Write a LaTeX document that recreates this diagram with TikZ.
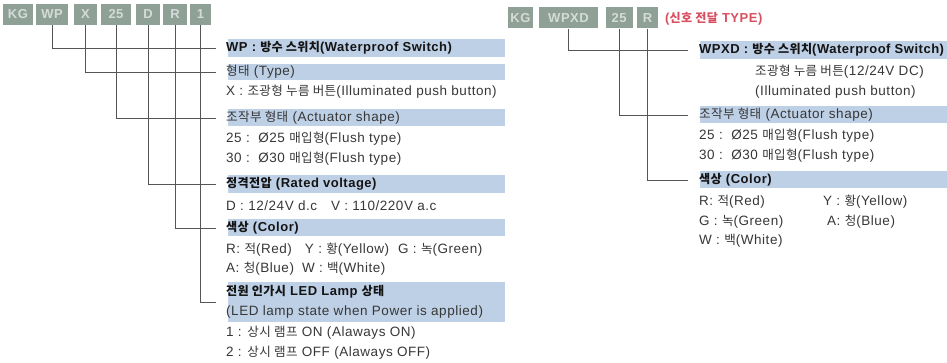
\documentclass[tikz,border=0pt]{standalone}
\usepackage{fontspec}
\setmainfont{Liberation Sans}[LetterSpace=4]
\newfontfamily\krfont{Noto Sans CJK KR}[Scale=0.93,LetterSpace=3]
\newcommand{\K}[1]{{\krfont #1}}
\definecolor{barblue}{RGB}{190,208,230}
\definecolor{codegray}{RGB}{143,160,150}
\definecolor{codetext}{RGB}{212,220,216}
\definecolor{txt}{RGB}{55,55,55}
\definecolor{hdr}{RGB}{20,20,20}
\definecolor{linec}{RGB}{85,85,85}
\definecolor{redt}{RGB}{215,80,95}
\begin{document}
\begin{tikzpicture}[x=1pt,y=-1pt,
  code/.style={fill=codegray, text=codetext, font=\fontsize{13}{13}\selectfont\bfseries, minimum height=21pt, inner sep=0pt, anchor=center},
  bar/.style={anchor=west, fill=barblue, minimum height=18pt, inner sep=0pt,
    path picture={\shade[left color=white,right color=barblue] (path picture bounding box.south west) rectangle ([xshift=12pt]path picture bounding box.north west);}},
  lbl/.style={anchor=west, inner sep=0pt, text=txt, font=\fontsize{13.5}{13.5}\selectfont},
  hd/.style={anchor=west, inner sep=0pt, text=hdr, font=\fontsize{13}{13}\selectfont\bfseries},
  link/.style={draw=linec, line width=0.8pt}]
\useasboundingbox (0,0) rectangle (947,363);
% left code
\node[code, minimum width=30] (kg) at (18,14.5) {KG};
\node[code, minimum width=32] (wp) at (52,14.5) {WP};
\node[code, minimum width=23] (x) at (85.5,14.5) {X};
\node[code, minimum width=30] (n25) at (116,14.5) {25};
\node[code, minimum width=24] (d) at (148,14.5) {D};
\node[code, minimum width=24] (r) at (175,14.5) {R};
\node[code, minimum width=21] (one) at (200.5,14.5) {1};
% right code
\node[code, minimum width=25] (kg2) at (520.5,18) {KG};
\node[code, minimum width=59] (wpxd) at (568.5,18) {WPXD};
\node[code, minimum width=27] (r25) at (619,18) {25};
\node[code, minimum width=21] (rr) at (647.5,18) {R};
\node[anchor=west, inner sep=0pt, text=redt, font=\fontsize{13}{13}\selectfont\bfseries] (sig) at (665,19) {(\K{신호 전달} TYPE)};
% left bars
\node[bar, minimum width=289] (bwp) at (216,48) {};
\node[hd] (twp) at ([xshift=10]bwp.west) {WP : \K{방수 스위치}(Waterproof Switch)};
\node[bar, minimum width=289, minimum height=16] (bty) at (216,72) {};
\node[lbl] (tty) at ([xshift=10]bty.west) {\K{형태} (Type)};
\node[lbl] (tx) at (226,92) {X : \K{조광형 누름 버튼}(Illuminated push button)};
\node[bar, minimum width=289, minimum height=17] (bact) at (216,118) {};
\node[lbl] (tact) at ([xshift=10]bact.west) {\K{조작부 형태} (Actuator shape)};
\node[lbl] (t25) at (226,139) {25 :\ \ Ø25 \K{매입형}(Flush type)};
\node[lbl] (t30) at (226,159) {30 :\ \ Ø30 \K{매입형}(Flush type)};
\node[bar, minimum width=289] (bvol) at (216,184) {};
\node[hd] (tvol) at ([xshift=10]bvol.west) {\K{정격전압} (Rated voltage)};
\node[lbl] (tdv) at (226,206) {D : 12/24V d.c\hspace{14pt}V : 110/220V a.c};
\node[bar, minimum width=289, minimum height=17] (bcol) at (216,228) {};
\node[hd] (tcol) at ([xshift=10]bcol.west) {\K{색상} (Color)};
\node[lbl] (tc1) at (226,250) {R: \K{적}(Red)\hspace{13pt}Y : \K{황}(Yellow)\hspace{9pt}G : \K{녹}(Green)};
\node[lbl] (tc2) at (226,269) {A: \K{청}(Blue)\hspace{8pt}W : \K{백}(White)};
\node[bar, minimum width=289, minimum height=40] (bled) at (216,302) {};
\node[hd] (tled1) at (226,292) {\K{전원 인가시} LED Lamp \K{상태}};
\node[lbl] (tled2) at (226,312) {(LED lamp state when Power is applied)};
\node[lbl] (ton) at (226,333) {1 : \K{상시 램프} ON (Alaways ON)};
\node[lbl] (toff) at (226,353) {2 : \K{상시 램프} OFF (Alaways OFF)};
% right bars
\node[bar, minimum width=259] (brw) at (688,50) {};
\node[hd] (trw) at ([xshift=11]brw.west) {WPXD : \K{방수 스위치}(Waterproof Switch)};
\node[lbl] (tr1) at (755,72) {\K{조광형 누름 버튼}(12/24V DC)};
\node[lbl] (tr2) at (755,92) {(Illuminated push button)};
\node[bar, minimum width=259, minimum height=17] (bract) at (688,115) {};
\node[lbl] (tract) at ([xshift=11]bract.west) {\K{조작부 형태} (Actuator shape)};
\node[lbl] (tr25) at (699,136) {25 :\ \ Ø25 \K{매입형}(Flush type)};
\node[lbl] (tr30) at (699,156) {30 :\ \ Ø30 \K{매입형}(Flush type)};
\node[bar, minimum width=259, minimum height=17] (brcol) at (688,180) {};
\node[hd] (trcol) at ([xshift=11]brcol.west) {\K{색상} (Color)};
\node[lbl] (trR) at (699,202) {R: \K{적}(Red)};
\node[lbl] (trY) at (823,202) {Y : \K{황}(Yellow)};
\node[lbl] (trG) at (699,222) {G : \K{녹}(Green)};
\node[lbl] (trA) at (827,222) {A: \K{청}(Blue)};
\node[lbl] (trW) at (699,241) {W : \K{백}(White)};
% connectors
\draw[link] (wp.south) |- (bwp.west);
\draw[link] (x.south) |- (bty.west);
\draw[link] (n25.south) |- (bact.west);
\draw[link] (d.south) |- (bvol.west);
\draw[link] (r.south) |- (bcol.west);
\draw[link] (one.south) |- (bled.west);
\draw[link] (wpxd.south) |- (brw.west);
\draw[link] (r25.south) |- (bract.west);
\draw[link] (rr.south) |- (brcol.west);
\end{tikzpicture}
\end{document}
